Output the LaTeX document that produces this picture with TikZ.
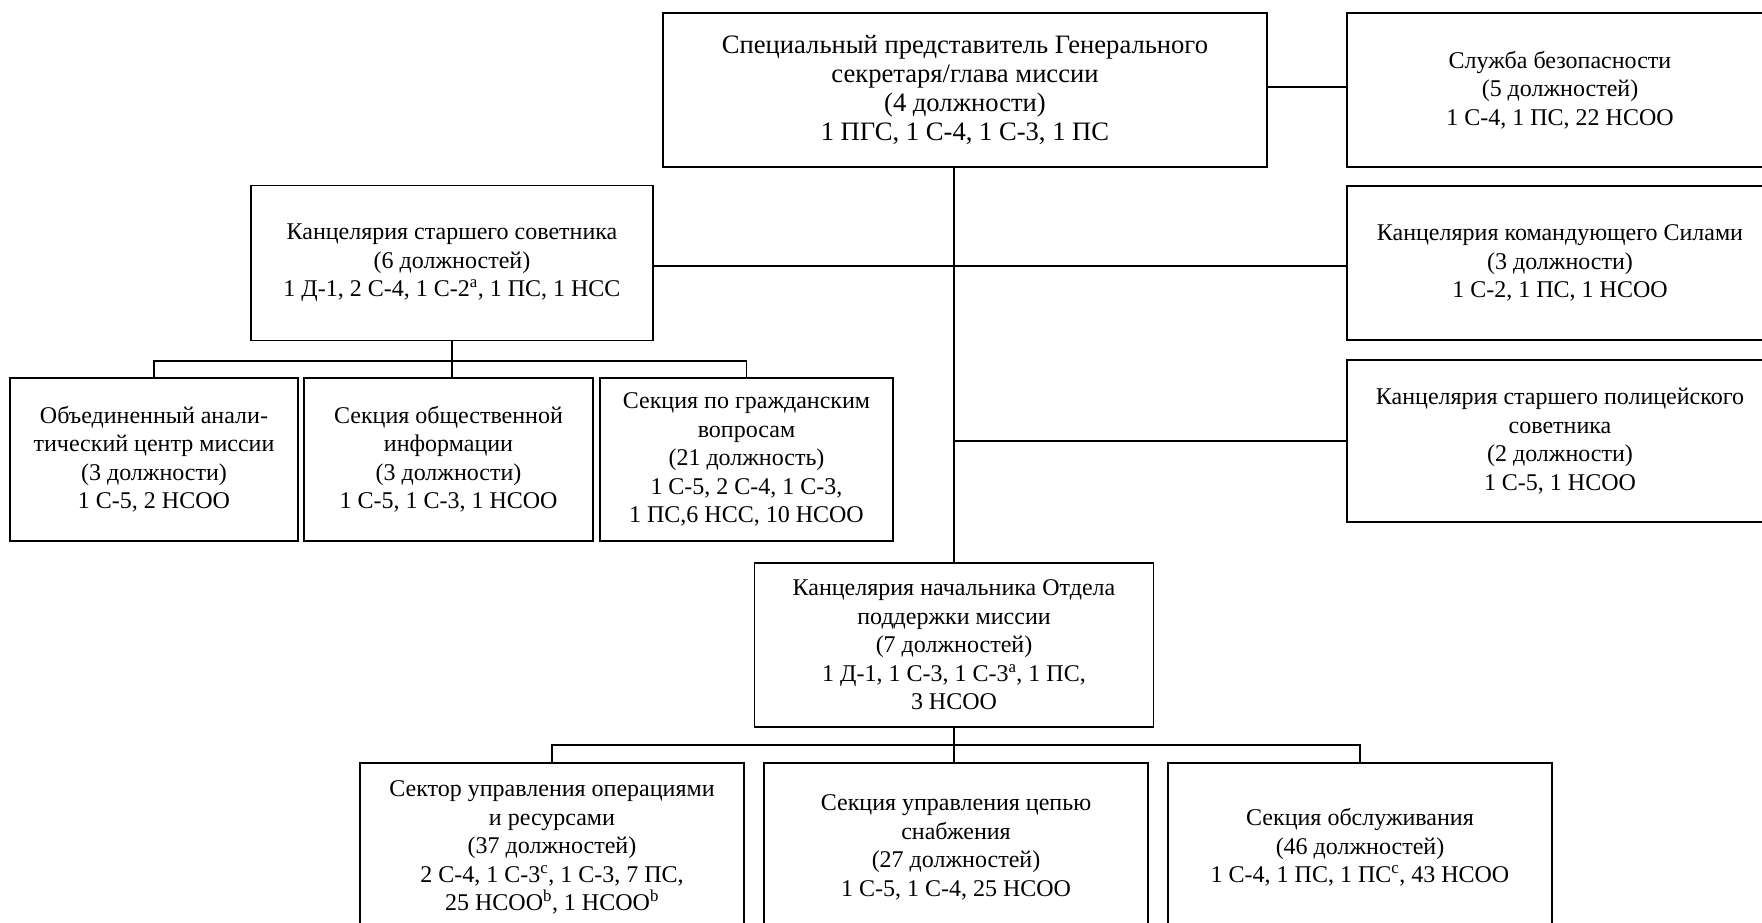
\documentclass[tikz,border=0pt]{standalone}
\usepackage{fontspec}
\setmainfont{Liberation Serif}

\tikzset{
    unit/.style 2 args={draw, line width=1.8pt, align=center, inner sep=0pt,
        minimum width=#1, minimum height=#2, font=\fontsize{24}{28.5}\selectfont},
    link/.style={line width=1.3pt}
}

\begin{document}
\begin{tikzpicture}[x=1pt, y=-1pt]
    %\draw[lightgray] (0, 0) grid[step=100] (1762, 923);
    \useasboundingbox (0, 0) rectangle (1762, 923);
    \clip (0, 0) rectangle (1762, 923);
    \node[unit={604pt}{154pt}, font=\fontsize{26.6}{29}\selectfont] (head) at (965, 90) {Специальный представитель Генерального\\секретаря/глава миссии\\(4 должности)\\1 ПГС, 1 С-4, 1 С-3, 1 ПС};
    \node[unit={426pt}{154pt}] (security) at (1560, 90) {Служба безопасности\\(5 должностей)\\1 С-4, 1 ПС, 22 НСОО};
    \node[unit={402pt}{155pt}] (advisor) at (452, 263) {Канцелярия старшего советника\\(6 должностей)\\1 Д-1, 2 С-4, 1 С-2\textsuperscript{a}, 1 ПС, 1 НСС};
    \node[unit={426pt}{154pt}] (force) at (1560, 263) {Канцелярия командующего Силами\\(3 должности)\\1 С-2, 1 ПС, 1 НСОО};
    \node[unit={426pt}{162pt}] (police) at (1560, 441) {Канцелярия старшего полицейского\\советника\\(2 должности)\\1 С-5, 1 НСОО};
    \node[unit={288pt}{163pt}] (analysis) at (154, 459.5) {Объединенный анали-\\тический центр миссии\\(3 должности)\\1 С-5, 2 НСОО};
    \node[unit={289pt}{163pt}] (public) at (448.5, 459.5) {Секция общественной\\информации\\(3 должности)\\1 С-5, 1 С-3, 1 НСОО};
    \node[unit={293pt}{163pt}] (civil) at (746.5, 459.5) {Секция по гражданским\\вопросам\\(21 должность)\\1 С-5, 2 С-4, 1 С-3,\\1 ПС,6 НСС, 10 НСОО};
    \node[unit={399pt}{164pt}] (support) at (954, 645) {Канцелярия начальника Отдела\\поддержки миссии\\(7 должностей)\\1 Д-1, 1 С-3, 1 С-3\textsuperscript{a}, 1 ПС,\\3 НСОО};
    \node[unit={384pt}{169pt}] (operations) at (552, 847.5) {Сектор управления операциями\\и ресурсами\\(37 должностей)\\2 С-4, 1 С-3\textsuperscript{c}, 1 С-3, 7 ПС,\\25 НСОО\textsuperscript{b}, 1 НСОО\textsuperscript{b}};
    \node[unit={384pt}{169pt}] (supply) at (956, 847.5) {Секция управления цепью\\снабжения\\(27 должностей)\\1 С-5, 1 С-4, 25 НСОО};
    \node[unit={384pt}{169pt}] (service) at (1360, 847.5) {Секция обслуживания\\(46 должностей)\\1 С-4, 1 ПС, 1 ПС\textsuperscript{c}, 43 НСОО};
    \coordinate (topbar) at (452, 361);
    \coordinate (lowbar) at (954, 745);
    \draw[link] ([yshift=3pt]head.east) -- ([yshift=3pt]security.west);
    \draw[link] (support.north |- head.south) -- (support.north);
    \draw[link] ([yshift=-3pt]advisor.east) -- ([yshift=-3pt]force.west);
    \draw[link] (police.west -| support.north) -- (police.west);
    \draw[link] (advisor.south) -- (topbar |- public.north);
    \draw[link] (analysis.north) |- (topbar) -| (civil.north);
    \draw[link] (support.south) -- (lowbar |- supply.north);
    \draw[link] (operations.north) |- (lowbar) -| (service.north);
\end{tikzpicture}
\end{document}
